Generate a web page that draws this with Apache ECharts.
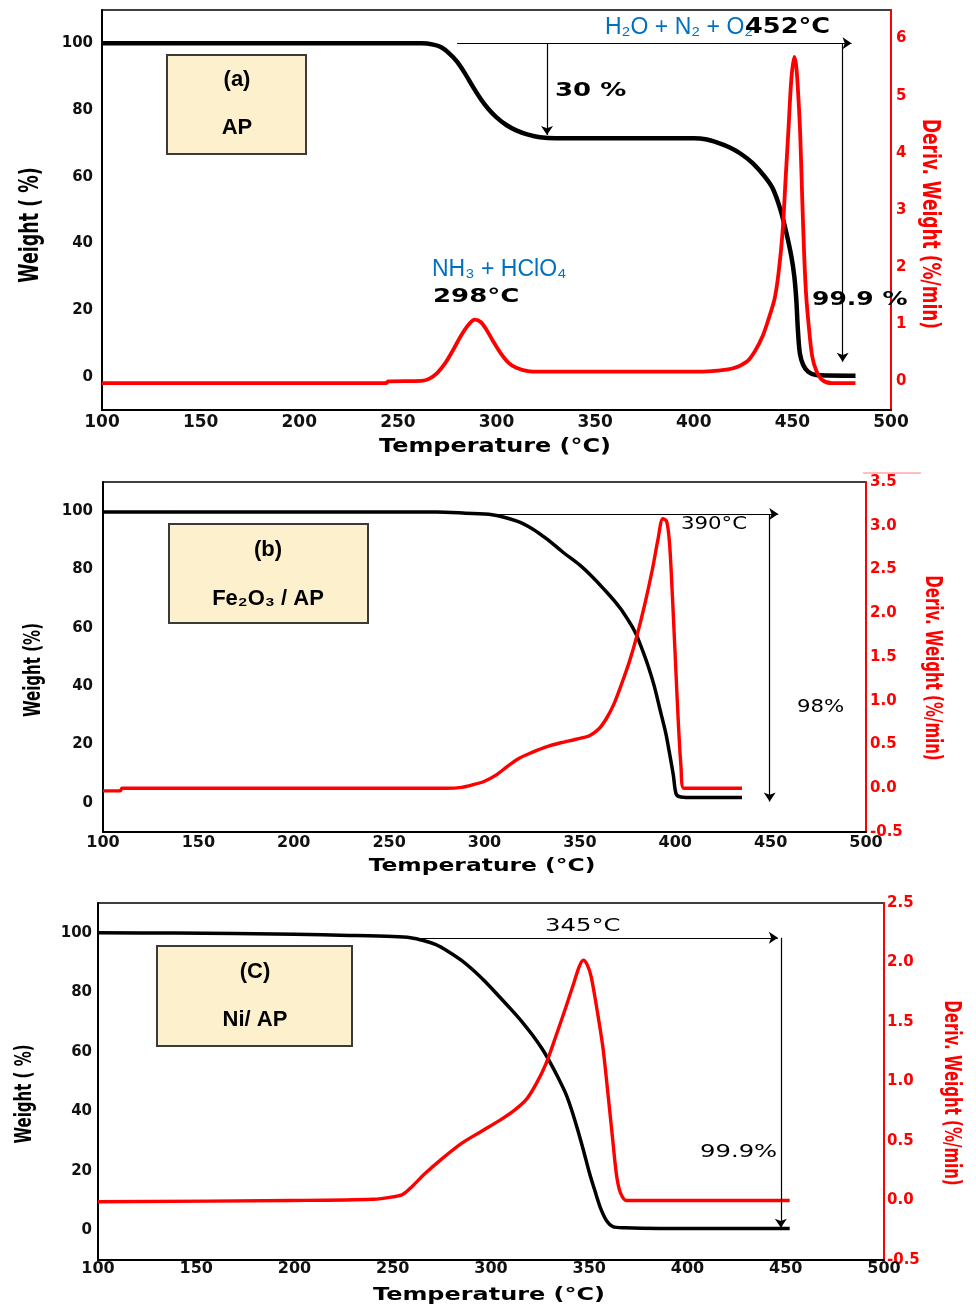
<!DOCTYPE html>
<html>
<head>
<meta charset="utf-8">
<script src="https://cdn.jsdelivr.net/npm/echarts@6/dist/echarts.min.js"></script>
<style>
html,body{margin:0;padding:0;background:#fff;}
#chart{width:976px;height:1306px;}
</style>
</head>
<body>
<div id="chart"></div>
<script>
// ---------- DATA ----------
const xTicks = [100, 150, 200, 250, 300, 350, 400, 450, 500];
const weightTicks = [0, 20, 40, 60, 80, 100];

// Panel (a) AP
const tempWeightA = [100,262,268,272,276,280,284,288,292,296,300,305,310,316,322,330,400,406,412,418,424,430,436,440,444,447,449.5,451,452,452.8,453.8,455.5,458,462,482];
const weightA     = [100,100,99.6,98.8,97,94.5,91,87,83.3,80.2,77.8,75.5,73.9,72.6,71.8,71.5,71.5,71.2,70.2,68.8,66.8,64,60,56.5,50,43,36,30,23,14,7,3.5,1.5,0.5,0.3];
const tempDerivA  = [100,244,245,262,266,270,274,278,282,286,289,292,295,298,302,306,310,316,322,403,412,420,427,431,435,438,441,443,445,446.5,448,449.5,451,452,453,454,455,456,457,458.5,460,462,465,470,482];
const derivA      = [-0.03,-0.03,0,0.01,0.05,0.15,0.32,0.55,0.8,1.0,1.08,1.04,0.9,0.72,0.5,0.33,0.24,0.18,0.17,0.17,0.19,0.23,0.35,0.53,0.8,1.1,1.45,1.9,2.6,3.5,4.4,5.3,5.68,5.5,5.0,4.3,3.2,2.2,1.5,0.9,0.45,0.2,0.03,-0.03,-0.03];

// Panel (b) Fe2O3 / AP
const tempWeightB = [100,275,290,304,317,325,333,341,350,357,363,368,373,379,383,386,389,392,395,397,399,400.5,403,410,435];
const weightB     = [99.7,99.7,99.3,98.8,96.6,94,90.3,86,81.5,77.2,73,69.3,65,58.5,52,46.5,40,32,24,17,9.5,3,2,1.8,1.8];
const tempDerivB  = [100,109,110,280,288,294,300,306,312,318,325,332,340,348,355,360,364,368,372,376,380,384,388,391,393.5,395.5,397,398.5,400,401.5,403,404.5,435];
const derivB      = [-0.03,-0.03,0,0,0.01,0.04,0.08,0.15,0.25,0.34,0.41,0.47,0.52,0.56,0.6,0.68,0.8,0.97,1.2,1.45,1.75,2.1,2.5,2.85,3.08,3.05,2.8,2.2,1.5,0.8,0.25,0,0];

// Panel (c) Ni / AP
const tempWeightC = [100,139,200,228,250,259,266,272,278,285,291,297,303,310,316,321,326,330,334,338,341,344,347,350,353,356,359,362,368,386,452];
const weightC     = [100,99.9,99.5,99.1,98.7,98.3,97.3,96,93.8,90.7,87.4,83.6,79.4,74.4,69.9,65.7,61,56.5,51.5,46,40.5,34,27,19.5,13,7,3,1.2,0.8,0.6,0.6];
const tempDerivC  = [100,199,240,250,255,260,266,275,285,295,305,312,318,323,328,333,338,342,345,347,349,351,354,357,359.5,362,364,366,369,452];
const derivC      = [-0.01,0,0.01,0.03,0.05,0.12,0.22,0.35,0.48,0.58,0.68,0.76,0.85,0.98,1.15,1.38,1.62,1.82,1.97,2.02,1.98,1.88,1.6,1.28,0.9,0.5,0.2,0.06,0,0];

// Annotation arrows [x1, y1, x2, y2] in data units (temperature, weight %)
const arrowsA = [[280,100,480,100],[325.6,100,325.6,72.5],[475.5,100,475.5,4.5]];
const arrowsB = [[304,99,454,99],[449.5,99,449.5,0.5]];
const arrowsC = [[263,98.3,446,98.3],[447.5,98.3,447.5,0.8]];

// ---------- BUILD ----------
const pairs = (xs, ys) => xs.map((x, i) => [x, ys[i]]);
const tickFont = 'DejaVu Sans';
const narrow = '"Liberation Sans Narrow", "Liberation Sans", sans-serif';

const grids = [
  {left:102, top:10, width:789, height:400},
  {left:103, top:482, width:763, height:350},
  {left:98, top:903, width:786, height:357}
];
const xMargins = [4, 3, 1];
const yMargins = [9, 10, 6];
const rMargins = [5, 4, 3];
const derivRanges = [[-0.5, 6.5], [-0.5, 3.5], [-0.5, 2.5]];
const xFontSizes = [17, 16, 16];

const xAxes = grids.map((g, i) => ({
  type:'value', gridIndex:i, min:xTicks[0], max:xTicks[xTicks.length-1], interval:xTicks[1]-xTicks[0],
  axisLine:{show:true, onZero:false, lineStyle:{color:'#000', width:2}},
  axisTick:{show:false}, splitLine:{show:false},
  axisLabel:{color:'#111', fontFamily:tickFont, fontWeight:'bold', fontSize:xFontSizes[i], margin:xMargins[i]}
}));

const yAxes = [];
grids.forEach((g, i) => {
  yAxes.push({
    type:'value', gridIndex:i, position:'left', min:-10, max:110, interval:10,
    axisLine:{show:true, onZero:false, lineStyle:{color:'#000', width:2}},
    axisTick:{show:false}, splitLine:{show:false},
    axisLabel:{color:'#111', fontFamily:tickFont, fontWeight:'bold', fontSize:15, margin:yMargins[i],
      formatter: v => weightTicks.indexOf(Math.round(v*1000)/1000) >= 0 ? String(Math.round(v)) : ''}
  });
  yAxes.push({
    type:'value', gridIndex:i, position:'right', min:derivRanges[i][0], max:derivRanges[i][1], interval:0.5,
    axisLine:{show:true, onZero:false, lineStyle:{color:'#ff0000', width:2}},
    axisTick:{show:false}, splitLine:{show:false},
    axisLabel:{color:'#ff0000', fontFamily:tickFont, fontWeight:'bold', fontSize:15, margin:rMargins[i], showMinLabel:true, showMaxLabel:true,
      formatter: v => {
        const r = Math.round(v*100)/100;
        if (i === 0) return Number.isInteger(r) && r >= 0 && r <= 6 ? String(r) : '';
        return r.toFixed(1);
      }}
  });
});

function arrowMark(arr) {
  return {
    silent:true, animation:false, symbol:['none','arrow'], symbolSize:9,
    label:{show:false}, emphasis:{disabled:true},
    lineStyle:{color:'#000', width:1.2, type:'solid'},
    data: arr.map(a => [{coord:[a[0], a[1]]}, {coord:[a[2], a[3]]}])
  };
}

const weightSets = [[tempWeightA, weightA, 4.5, arrowsA], [tempWeightB, weightB, 3.5, arrowsB], [tempWeightC, weightC, 3.5, arrowsC]];
const derivSets = [[tempDerivA, derivA, 3.8], [tempDerivB, derivB, 3.4], [tempDerivC, derivC, 3.4]];

const series = [];
weightSets.forEach((s, i) => {
  series.push({
    type:'line', xAxisIndex:i, yAxisIndex:2*i, data:pairs(s[0], s[1]), showSymbol:false,
    smooth:0.3, lineStyle:{color:'#000', width:s[2]}, itemStyle:{color:'#000'}, z:3,
    markLine: arrowMark(s[3]), animation:false
  });
});
derivSets.forEach((s, i) => {
  series.push({
    type:'line', xAxisIndex:i, yAxisIndex:2*i+1, data:pairs(s[0], s[1]), showSymbol:false,
    smooth:0.3, lineStyle:{color:'#ff0000', width:s[2]}, itemStyle:{color:'#ff0000'}, z:4, animation:false
  });
});

// ---------- GRAPHIC TEXT ----------
function txt(text, x, y, opt) {
  opt = opt || {};
  return {
    type:'text', x:x, y:y, rotation:opt.rotation || 0, scaleX:opt.sx || 1, scaleY:opt.sy || 1, z:100,
    style:{text:text, fill:opt.color || '#000', fontFamily:opt.family || tickFont,
      fontWeight:opt.weight || 'bold', fontSize:opt.size || 18,
      align:opt.align || 'left', verticalAlign:'middle'}
  };
}
function box(x, y, w, h) {
  return {type:'rect', z:90, shape:{x:x, y:y, width:w, height:h},
    style:{fill:'#fdf0cc', stroke:'#3a3a3a', lineWidth:2}};
}
const blue = '#0070c0';
const graphics = [
  // panel a
  box(167, 55, 139, 99),
  txt('(a)', 237, 80, {family:narrow, size:22, align:'center'}),
  txt('AP', 237, 128, {family:narrow, size:22, align:'center'}),
  txt('H₂O + N₂ + O₂', 605, 28, {family:narrow, size:23, weight:'normal', color:blue}),
  txt('452°C', 745, 28, {size:21, sx:1.22}),
  txt('30 %', 555, 91, {size:20, sx:1.3}),
  txt('NH₃ + HClO₄', 432, 270, {family:narrow, size:23, weight:'normal', color:blue}),
  txt('298°C', 433, 297, {size:20, sx:1.3}),
  txt('99.9 %', 812, 300, {size:20, sx:1.25}),
  txt('Temperature (°C)', 495, 447, {size:19, sx:1.26, align:'center'}),
  txt('Weight ( %)', 31, 225, {size:18, sx:0.97, sy:1.45, rotation:Math.PI/2, align:'center'}),
  txt('Deriv. Weight (%/min)', 930, 224, {size:17, sy:1.5, rotation:-Math.PI/2, align:'center', color:'#ff0000'}),
  // panel b
  box(169, 524, 199, 99),
  txt('(b)', 268, 550, {family:narrow, size:22, align:'center'}),
  txt('Fe₂O₃ / AP', 268, 599, {family:narrow, size:22, align:'center'}),
  txt('390°C', 681, 525, {size:17, sx:1.25, weight:'normal'}),
  txt('98%', 797, 708, {size:17, sx:1.25, weight:'normal'}),
  txt('Temperature (°C)', 482, 866, {size:18, sx:1.3, align:'center'}),
  txt('Weight (%)', 34, 670, {size:16, sx:0.94, sy:1.45, rotation:Math.PI/2, align:'center'}),
  txt('Deriv. Weight (%/min)', 932, 668, {size:15, sy:1.5, rotation:-Math.PI/2, align:'center', color:'#ff0000'}),
  {type:'line', z:100, shape:{x1:863, y1:473, x2:921, y2:473}, style:{stroke:'#ff8080', lineWidth:1}},
  // panel c
  box(157, 946, 195, 100),
  txt('(C)', 255, 972, {family:narrow, size:22, align:'center'}),
  txt('Ni/ AP', 255, 1020, {family:narrow, size:22, align:'center'}),
  txt('345°C', 545, 926, {size:18, sx:1.35, weight:'normal'}),
  txt('99.9%', 700, 1152, {size:18, sx:1.35, weight:'normal'}),
  txt('Temperature (°C)', 489, 1295, {size:18, sx:1.33, align:'center'}),
  txt('Weight ( %)', 25, 1094, {size:15, sy:1.5, rotation:Math.PI/2, align:'center'}),
  txt('Deriv. Weight (%/min)', 951, 1093, {size:15, sy:1.5, rotation:-Math.PI/2, align:'center', color:'#ff0000'})
];

const chart = echarts.init(document.getElementById('chart'), null, {renderer:'canvas'});
chart.setOption({
  backgroundColor:'#fff',
  animation:false,
  grid: grids.map(g => Object.assign({show:true, borderColor:'#000', borderWidth:1.5, backgroundColor:'transparent', containLabel:false}, g)),
  xAxis: xAxes,
  yAxis: yAxes,
  series: series,
  graphic: graphics
});
</script>
</body>
</html>
